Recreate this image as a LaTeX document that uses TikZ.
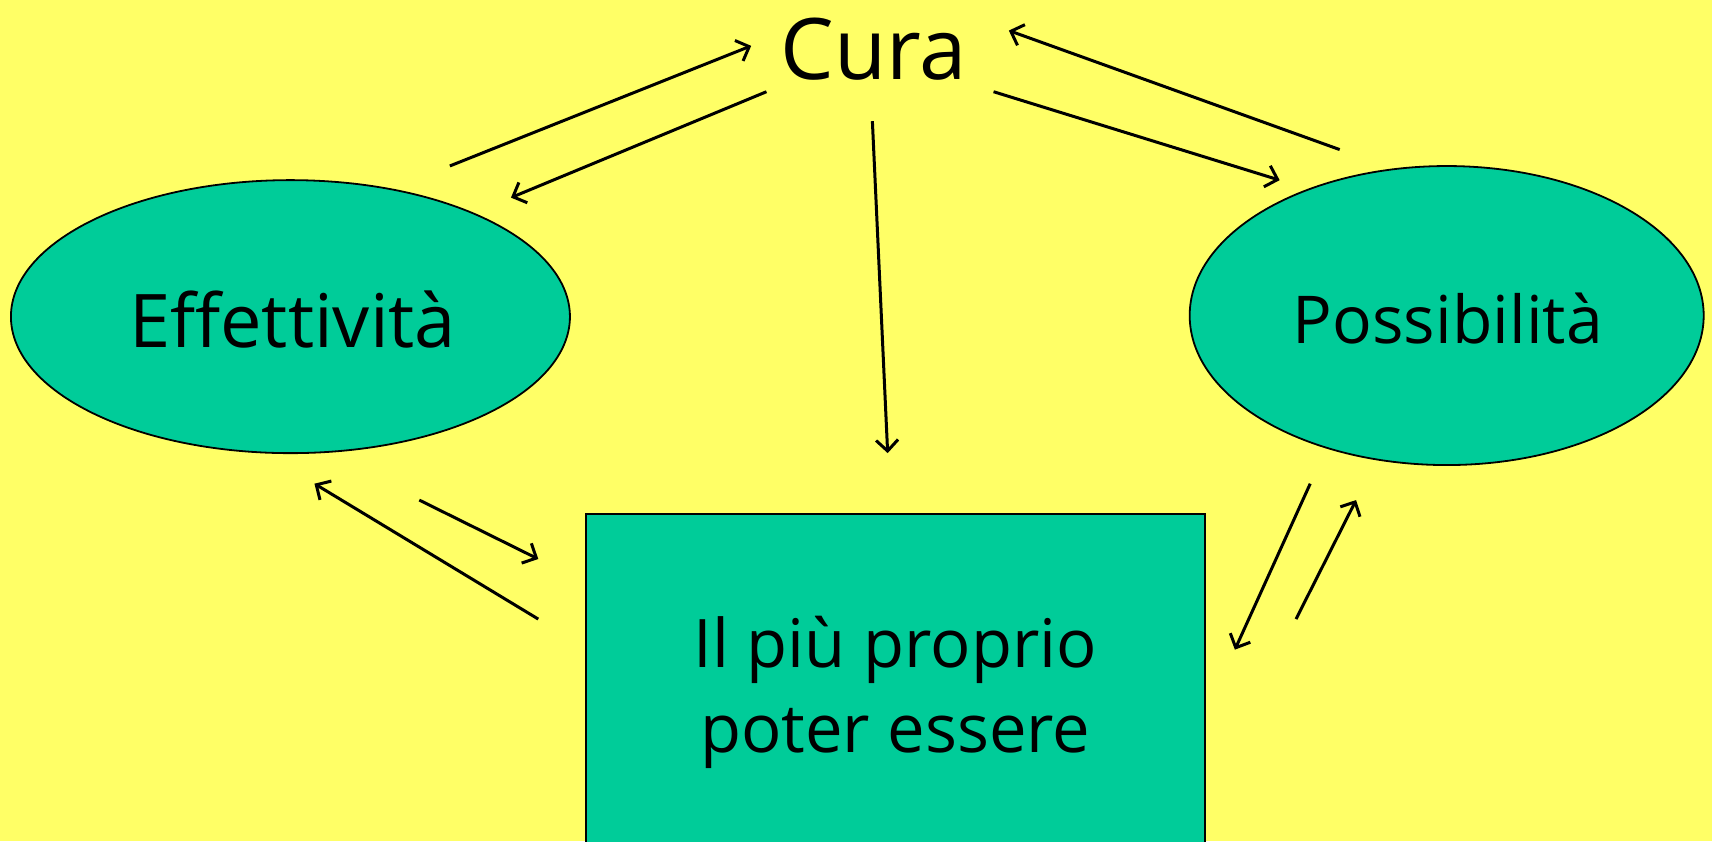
\documentclass[tikz,border=0pt]{standalone}
\usepackage{fontspec}
\setmainfont{Open Sans}
\usetikzlibrary{shapes.geometric,arrows.meta}
\definecolor{bgyellow}{HTML}{FFFF66}
\definecolor{nodegreen}{HTML}{00CC99}
\begin{document}
\begin{tikzpicture}[x=1.0918pt,y=-1.0918pt,
  ell/.style={ellipse,draw=black,line width=1.8pt,fill=nodegreen,inner sep=0pt},
  boxnode/.style={rectangle,draw=black,line width=2pt,fill=nodegreen,inner sep=0pt},
  lbl/.style={align=center,inner sep=0pt},
  arr/.style={line width=3pt,-{Straight Barb[length=11pt,width=22pt,line width=3pt]}}
]
\useasboundingbox (0,0) rectangle (1568,770.28);
\fill[bgyellow] (0,0) rectangle (1568,770.28);
\begin{scope}
\clip (0,0) rectangle (1568,770.28);
\node[ell,minimum width=559pt,minimum height=273pt] (eff) at (266,290) {};
\node[ell,minimum width=514pt,minimum height=299pt] (pos) at (1325,289) {};
\node[boxnode,minimum width=619pt,minimum height=400pt] (box) at (820.5,654) {};
\end{scope}
\node[lbl,font=\fontsize{74}{88}\selectfont] (efft) at (268,293) {Effettività};
\node[lbl,font=\fontsize{66}{80}\selectfont] (post) at (1326,292) {Possibilità};
\node[lbl,font=\fontsize{67}{85}\selectfont] (boxt) at (820,634) {Il più proprio\\poter essere};
\node[lbl,font=\fontsize{85}{100}\selectfont] (cura) at (800,45) {Cura};

\coordinate (a1s) at (412,152); \coordinate (a1e) at (688,42);
\coordinate (a2s) at (702,84);  \coordinate (a2e) at (468,181);
\coordinate (a3s) at (910,84);  \coordinate (a3e) at (1172,165);
\coordinate (a4s) at (1227,137);\coordinate (a4e) at (924,28);
\coordinate (a5s) at (799,111); \coordinate (a5e) at (813,415);
\coordinate (a6s) at (384,458); \coordinate (a6e) at (493,512);
\coordinate (a7s) at (493,567); \coordinate (a7e) at (288,443);
\coordinate (a8s) at (1200,443);\coordinate (a8e) at (1131,595);
\coordinate (a9s) at (1187,567);\coordinate (a9e) at (1242,458);
\foreach \i in {1,...,9} {\draw[arr] (a\i s) -- (a\i e);}
\end{tikzpicture}
\end{document}
